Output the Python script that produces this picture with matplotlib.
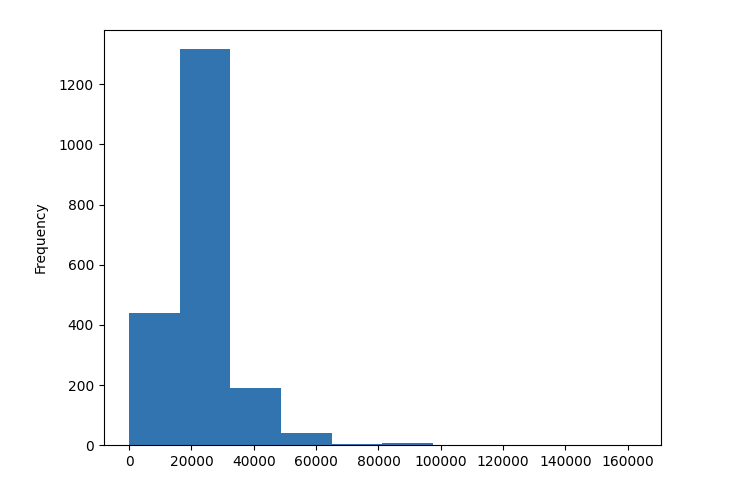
import matplotlib
matplotlib.use('Agg')
import matplotlib.pyplot as plt
import numpy as np

# histogram: 10 equal bins from 0 to ~163000
bin_min = 0
bin_max = 162500
n_bins = 10
counts = [441, 1316, 189, 40, 3, 8, 0, 0, 0, 1]

edges = np.linspace(bin_min, bin_max, n_bins + 1)

fig = plt.figure(figsize=(7.36, 4.86), dpi=100)
ax = fig.add_axes([0.141, 0.084, 0.757, 0.855])
ax.hist(edges[:-1], bins=edges, weights=counts, color='#3274b0')
ax.set_ylabel('Frequency', labelpad=8)
ax.set_xticks(np.arange(0, 160001, 20000))

fig.savefig('out.png', dpi=100)
